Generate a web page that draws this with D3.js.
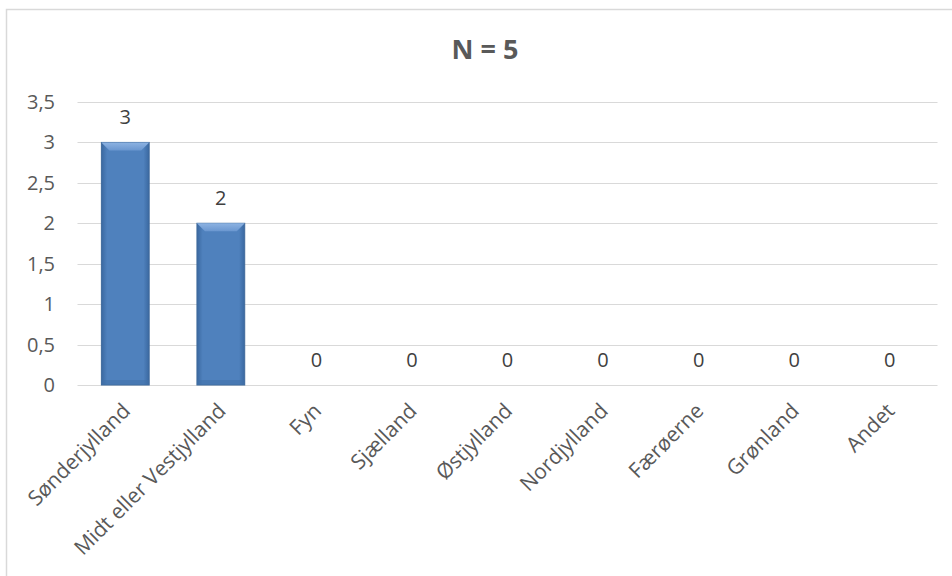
<!DOCTYPE html>
<html><head><meta charset="utf-8">
<script src="https://cdn.jsdelivr.net/npm/d3@7/dist/d3.min.js"></script>
<style>body{margin:0;background:#fff;} svg{display:block;}</style>
</head><body>
<script>
const categories = ["Sønderjylland","Midt eller Vestjylland","Fyn","Sjælland","Østjylland","Nordjylland","Færøerne","Grønland","Andet"];
const values = [3,2,0,0,0,0,0,0,0];
const yTicks = [0,0.5,1,1.5,2,2.5,3,3.5];
const yTickLabels = ["0","0,5","1","1,5","2","2,5","3","3,5"];
const title = "N = 5";

const W = 952, H = 576;
const font = "Open Sans, Calibri, sans-serif";
const svg = d3.select("body").append("svg").attr("width", W).attr("height", H);

// chart border
svg.append("rect").attr("x",6.5).attr("y",9.5).attr("width",W).attr("height",H)
  .attr("fill","#fff").attr("stroke","#d9d9d9").attr("stroke-width",1.5);

const x = d3.scaleBand().domain(categories).range([77.5, 937.5]).paddingInner(0.5).paddingOuter(0.25);
const y = d3.scaleLinear().domain([0,3.5]).range([385, 102]);

// gridlines
svg.append("g").selectAll("line").data(yTicks).join("line")
  .attr("x1",77.5).attr("x2",937.5)
  .attr("y1",d=>Math.round(y(d))+0.5).attr("y2",d=>Math.round(y(d))+0.5)
  .attr("stroke","#d9d9d9").attr("stroke-width",1);

// y tick labels
svg.append("g").selectAll("text").data(yTicks).join("text")
  .attr("x",55).attr("y",d=>y(d)).attr("dy","0.35em")
  .attr("text-anchor","end").attr("font-family",font).attr("font-size",20).attr("fill","#595959")
  .text((d,i)=>yTickLabels[i]);

// gradients
const defs = svg.append("defs");
const g1 = defs.append("linearGradient").attr("id","side").attr("x1","0").attr("x2","1").attr("y1","0").attr("y2","0");
g1.append("stop").attr("offset","0").attr("stop-color","#3a68a0");
g1.append("stop").attr("offset","0.12").attr("stop-color","#4f81bd");
g1.append("stop").attr("offset","0.88").attr("stop-color","#4f81bd");
g1.append("stop").attr("offset","1").attr("stop-color","#3a68a0");
const g2 = defs.append("linearGradient").attr("id","top").attr("x1","0").attr("x2","0").attr("y1","0").attr("y2","1");
g2.append("stop").attr("offset","0").attr("stop-color","#8db3e2");
g2.append("stop").attr("offset","1").attr("stop-color","#6a97d0");

const bars = svg.append("g").selectAll("g").data(categories.map((c,i)=>({c, v:values[i]})).filter(d=>d.v>0)).join("g");
bars.append("rect")
  .attr("x",d=>x(d.c)).attr("y",d=>y(d.v)).attr("width",x.bandwidth()).attr("height",d=>y(0)-y(d.v))
  .attr("fill","url(#side)").attr("stroke","#3f6a9c").attr("stroke-width",1);
bars.append("path")
  .attr("d",d=>{const x0=x(d.c), x1=x0+x.bandwidth(), t=y(d.v), b=8;
    return `M${x0},${t}L${x1},${t}L${x1-b},${t+b}L${x0+b},${t+b}Z`;})
  .attr("fill","url(#top)");
bars.append("rect")
  .attr("x",d=>x(d.c)).attr("y",y(0)-5).attr("width",x.bandwidth()).attr("height",5)
  .attr("fill","#3f6fa8").attr("opacity",0.5);

// data labels
svg.append("g").selectAll("text").data(categories).join("text")
  .attr("x",d=>x(d)+x.bandwidth()/2)
  .attr("y",(d,i)=>y(values[i])-25).attr("dy","0.35em")
  .attr("text-anchor","middle").attr("font-family",font).attr("font-size",20).attr("fill","#404040")
  .text((d,i)=>values[i]);

// category labels
svg.append("g").selectAll("text").data(categories).join("text")
  .attr("transform",d=>`translate(${x(d)+x.bandwidth()/2+1},${407}) rotate(-45)`)
  .attr("text-anchor","end").attr("dy","0.35em")
  .attr("font-family",font).attr("font-size",21).attr("fill","#595959")
  .text(d=>d);

// title
svg.append("text").attr("x",485).attr("y",50).attr("dy","0.35em").attr("text-anchor","middle")
  .attr("font-family",font).attr("font-size",27).attr("font-weight","bold").attr("fill","#595959")
  .text(title);
</script>
</body></html>
